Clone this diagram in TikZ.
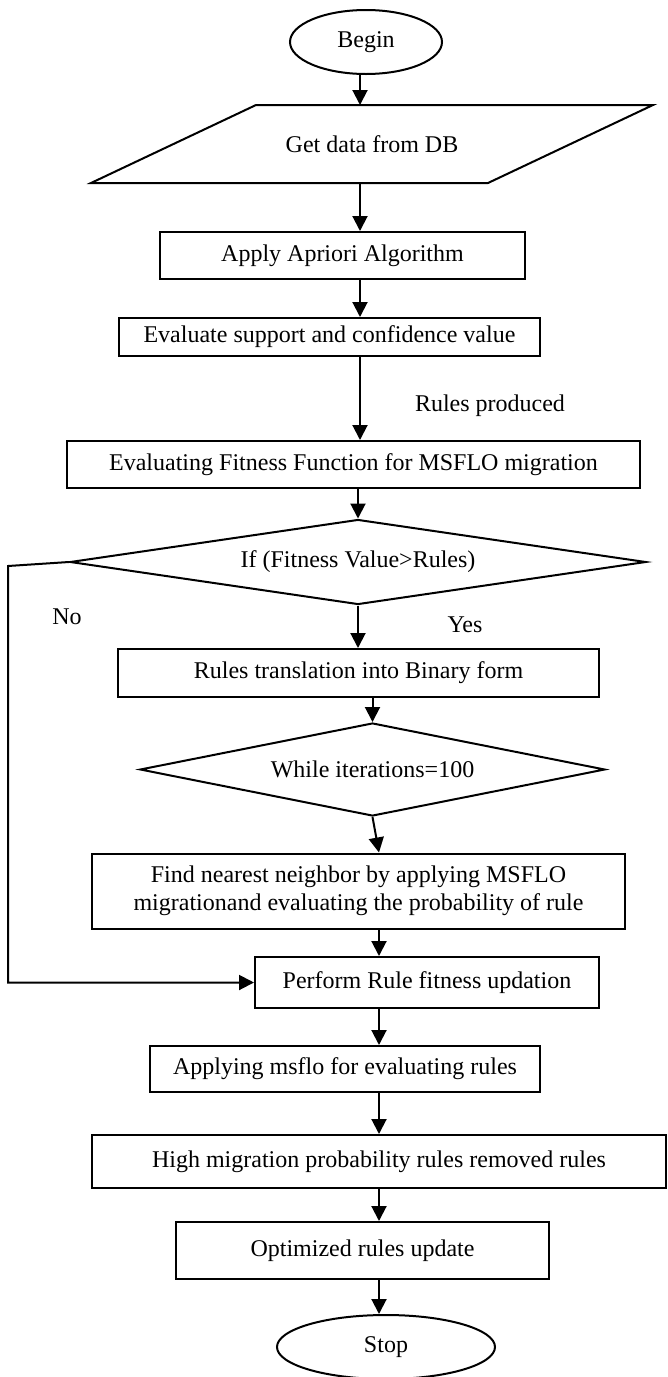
\documentclass[tikz,border=0pt]{standalone}
\usepackage{fontspec}
\setmainfont{Liberation Serif}
\usetikzlibrary{arrows.meta,shapes.geometric}

\begin{document}
\begin{tikzpicture}[x=0.5pt,y=-0.5pt,line width=1pt,
    >={Triangle[length=7.5pt,width=7.5pt]},
    every node/.style={font=\fontsize{12pt}{14pt}\selectfont},
    box/.style={draw,rectangle,inner sep=0pt,align=center},
    term/.style={draw,ellipse,inner sep=0pt},
    decide/.style={draw,diamond,inner sep=0pt},
    flow/.style={->}]
  \useasboundingbox (0,0) rectangle (668,1377);
  \node[term,minimum width=76pt,minimum height=32pt] (begin) at (366,42) {Begin};
  \node[inner sep=0pt,minimum width=197.5pt,minimum height=38pt] (getdata) at (372,144) {Get data from DB};
  \draw ([xshift=-41.25pt]getdata.south west) -- ([xshift=41.25pt]getdata.north west)
     -- ([xshift=41.25pt]getdata.north east) -- ([xshift=-41.25pt]getdata.south east) -- cycle;
  \node[box,minimum width=182.5pt,minimum height=23.5pt] (apriori) at (342.5,255.5) {Apply Apriori Algorithm};
  \node[box,minimum width=210.5pt,minimum height=19pt] (support) at (329.5,337) {Evaluate support and confidence value};
  \node (produced) at (490,406) {Rules produced};
  \node[box,minimum width=286.5pt,minimum height=23.5pt] (fitness) at (353.5,464.5) {Evaluating Fitness Function for MSFLO migration};
  \node[decide,aspect=6.8,minimum width=288pt,minimum height=42.5pt] (ifrules) at (358,562) {If (Fitness Value>Rules)};
  \node (no) at (67,617) {No};
  \node (yes) at (465,625) {Yes};
  \node[box,minimum width=240.5pt,minimum height=24pt] (binary) at (358.5,673) {Rules translation into Binary form};
  \node[decide,aspect=5,minimum width=232.5pt,minimum height=46.5pt] (iter) at (372.5,769.5) {While iterations=100};
  \node[box,minimum width=266.5pt,minimum height=37.5pt] (neighbor) at (358.5,891) {Find nearest neighbor by applying MSFLO\\migrationand evaluating the probability of rule};
  \node[box,minimum width=172pt,minimum height=25.5pt] (perform) at (427,982.5) {Perform Rule fitness updation};
  \node[box,minimum width=195pt,minimum height=23pt] (msflo) at (345,1069) {Applying msflo for evaluating rules};
  \node[box,minimum width=287pt,minimum height=26.5pt] (removed) at (379,1161.5) {High migration probability rules removed rules};
  \node[box,minimum width=186.5pt,minimum height=28.5pt] (optimized) at (362.5,1250.5) {Optimized rules update};
  \node[term,minimum width=109pt,minimum height=32pt] (stop) at (386,1347) {Stop};
  \coordinate (upper) at (360,0);
  \coordinate (lower) at (379,0);
  \coordinate (noturn) at (8,566);
  \draw[flow] (begin.south -| upper) -- (getdata.north -| upper);
  \draw[flow] (getdata.south -| upper) -- (apriori.north -| upper);
  \draw[flow] (apriori.south -| upper) -- (support.north -| upper);
  \draw[flow] (support.south -| upper) -- (fitness.north -| upper);
  \draw[flow] (fitness.south -| ifrules.north) -- (ifrules.north);
  \draw[flow] (ifrules.south) -- (binary.north -| ifrules.south);
  \draw[flow] (binary.south -| iter.north) -- (iter.north);
  \draw[flow] (iter.south) -- (neighbor.north -| lower);
  \draw[flow] (neighbor.south -| lower) -- (perform.north -| lower);
  \draw[flow] (perform.south -| lower) -- (msflo.north -| lower);
  \draw[flow] (msflo.south -| lower) -- (removed.north -| lower);
  \draw[flow] (removed.south -| lower) -- (optimized.north -| lower);
  \draw[flow] (optimized.south -| lower) -- (stop.north -| lower);
  \draw[flow] (ifrules.west) -- (noturn) -- (noturn |- perform.west) -- (perform.west);
\end{tikzpicture}
\end{document}
